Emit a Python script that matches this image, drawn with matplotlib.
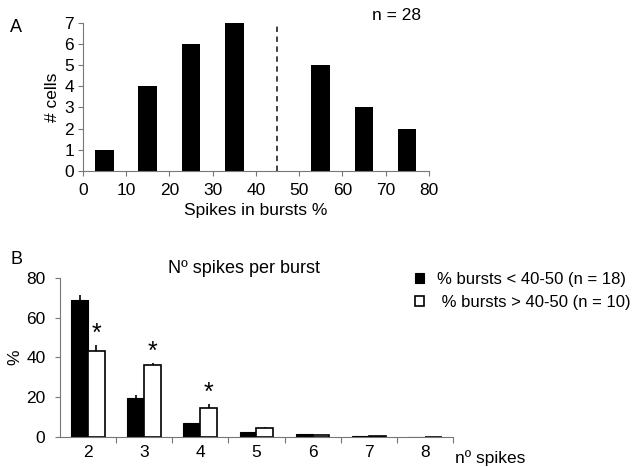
import numpy as np
import matplotlib
matplotlib.use('Agg')
import matplotlib.pyplot as plt

plt.rcParams['font.family'] = ['Liberation Sans', 'DejaVu Sans']

# panel A: histogram of % spikes in bursts
binCenters = [5, 15, 25, 35, 45, 55, 65, 75]
cellCounts = [1, 4, 6, 7, 0, 5, 3, 2]
cutoff = 45
nCells = 28

# panel B: number of spikes per burst
spikeCats = ['2', '3', '4', '5', '6', '7', '8']
lowBurst = [69, 19.5, 7, 2.5, 1.5, 0.5, 0.3]
lowErr = [2.4, 1.5, 0, 0, 0, 0, 0]
highBurst = [43.5, 36, 14.8, 4.6, 1.2, 0.5, 0.3]
highErr = [3, 1.2, 1.8, 0.5, 0, 0, 0]
signif = [True, True, True, False, False, False, False]

axisColor = '#777777'
fs = 12.5

fig = plt.figure(figsize=(6.38, 4.67), dpi=100)

# ---- panel A
axA = fig.add_axes([0.130, 0.634, 0.542, 0.317])
axA.bar(binCenters, cellCounts, width=4.3, color='black')
axA.plot([cutoff, cutoff], [0, 7], linestyle=(0, (3, 2.5)), color='#333333', linewidth=1.3)
axA.set_xlim(0, 80)
axA.set_ylim(0, 7)
axA.set_xticks(np.arange(0, 81, 10))
axA.set_yticks(np.arange(0, 8, 1))
axA.tick_params(labelsize=fs, length=3.5, width=0.8, color=axisColor)
axA.tick_params(axis='x', pad=5)
axA.tick_params(axis='y', pad=3)
for s in ['top', 'right']:
    axA.spines[s].set_visible(False)
for s in ['left', 'bottom']:
    axA.spines[s].set_color(axisColor)
    axA.spines[s].set_linewidth(0.8)
axA.set_ylabel('# cells', fontsize=fs, labelpad=3)
axA.set_xlabel('Spikes in bursts %', fontsize=fs, labelpad=4)
fig.text(0.622, 0.957, f'n = {nCells}', fontsize=fs, ha='center', va='baseline')
fig.text(0.016, 0.931, 'A', fontsize=13, va='baseline')

# ---- panel B
axB = fig.add_axes([0.094, 0.064, 0.616, 0.341])
x = np.arange(len(spikeCats))
w = 0.3
axB.bar(x - w / 2, lowBurst, width=w, color='black', edgecolor='black', linewidth=0.8,
        label='% bursts < 40-50 (n = 18)')
axB.bar(x + w / 2, highBurst, width=w, color='white', edgecolor='black', linewidth=1.2,
        label=' % bursts > 40-50 (n = 10)')
axB.errorbar(x - w / 2, lowBurst, yerr=[np.zeros(len(x)), lowErr], fmt='none',
             ecolor='black', elinewidth=1.2, capsize=0)
axB.errorbar(x + w / 2, highBurst, yerr=[np.zeros(len(x)), highErr], fmt='none',
             ecolor='black', elinewidth=1.2, capsize=0)
for i in range(len(x)):
    if signif[i]:
        axB.text(x[i] + w / 2, highBurst[i] + highErr[i] - 0.5, '*', ha='center', va='bottom',
                 fontsize=18)
axB.set_xlim(-0.5, len(x) - 0.5)
axB.set_ylim(0, 80)
axB.set_yticks(np.arange(0, 81, 20))
axB.set_xticks(x)
axB.set_xticklabels(spikeCats)
axB.set_xticks(np.arange(0.5, len(x), 1), minor=True)
axB.tick_params(axis='x', which='major', length=0, labelsize=fs, pad=6)
axB.tick_params(axis='x', which='minor', length=4, width=0.8, color=axisColor)
axB.tick_params(axis='y', labelsize=fs, length=3.5, width=0.8, color=axisColor, pad=7)
for s in ['top', 'right']:
    axB.spines[s].set_visible(False)
for s in ['left', 'bottom']:
    axB.spines[s].set_color(axisColor)
    axB.spines[s].set_linewidth(0.8)
axB.set_ylabel('%', fontsize=fs, labelpad=3)
fig.text(0.382, 0.415, 'Nº spikes per burst', fontsize=13, ha='center', va='baseline')
fig.text(0.713, 0.009, 'nº spikes', fontsize=fs, ha='left', va='baseline')
fig.legend(*axB.get_legend_handles_labels(), loc='upper left', bbox_to_anchor=(0.650, 0.418),
           frameon=False, fontsize=12, handlelength=0.57, handleheight=0.5,
           handletextpad=0.75, labelspacing=0.5, borderpad=0, borderaxespad=0)
fig.text(0.016, 0.435, 'B', fontsize=13, va='baseline')

fig.savefig('out.png', dpi=100)
